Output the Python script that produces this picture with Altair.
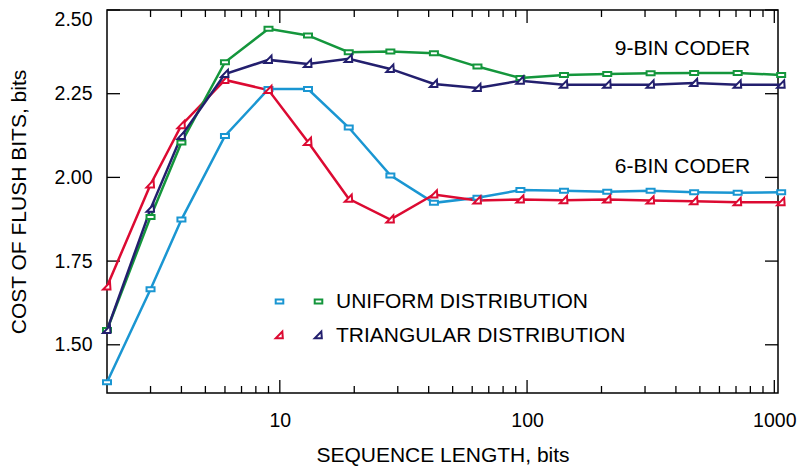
import altair as alt
import pandas as pd

# ---- data ----
seq_len = [2, 3, 4, 6, 9, 13, 19, 28, 42, 63, 94, 141, 211, 316, 474, 711, 1066]
uniform_6bin = [1.388, 1.666, 1.874, 2.124, 2.264, 2.264, 2.149, 2.006, 1.924, 1.939,
                1.962, 1.960, 1.957, 1.960, 1.956, 1.954, 1.956]
uniform_9bin = [1.544, 1.882, 2.104, 2.344, 2.444, 2.424, 2.374, 2.376, 2.371, 2.331,
                2.297, 2.306, 2.309, 2.311, 2.312, 2.312, 2.306]
triangular_6bin = [1.674, 1.979, 2.156, 2.291, 2.261, 2.106, 1.936, 1.874, 1.949, 1.931,
                   1.934, 1.932, 1.934, 1.931, 1.929, 1.926, 1.926]
triangular_9bin = [1.544, 1.906, 2.124, 2.309, 2.351, 2.339, 2.354, 2.324, 2.279, 2.267,
                   2.289, 2.277, 2.277, 2.277, 2.282, 2.277, 2.277]

dists = ["UNIFORM DISTRIBUTION", "TRIANGULAR DISTRIBUTION"]
colors_6bin = ["#1a96d2", "#dc0a32"]
colors_9bin = ["#14963c", "#231f6e"]

x_major = [10, 100, 1000]
x_minor = [3, 4, 5, 6, 7, 8, 9, 20, 30, 40, 50, 60, 70, 80, 90,
           200, 300, 400, 500, 600, 700, 800, 900]
y_ticks = [1.50, 1.75, 2.00, 2.25, 2.50]

note_text = ["9-BIN CODER", "6-BIN CODER"]
note_x = [425, 425]
note_y = [2.384, 2.0315]

FONT = "Liberation Sans"
W, H = 671, 383

rows = []
for coder, dist, vals in [("6-BIN", dists[0], uniform_6bin), ("9-BIN", dists[0], uniform_9bin),
                          ("6-BIN", dists[1], triangular_6bin), ("9-BIN", dists[1], triangular_9bin)]:
    for xv, v in zip(seq_len, vals):
        rows.append({"length": xv, "cost": v, "coder": coder, "dist": dist})
df = pd.DataFrame(rows)

x_scale = alt.Scale(type="log", domain=[2, 1035], nice=False)
y_scale = alt.Scale(domain=[1.356, 2.50], nice=False, zero=False)

x_axis = alt.Axis(values=x_major, format="d", ticks=False, domain=False, grid=False,
                  labelFontSize=19.5, labelPadding=18, labelColor="black",
                  labelFont=FONT, title="SEQUENCE LENGTH, bits", titleFont=FONT,
                  titleFontSize=21, titleFontWeight="normal", titlePadding=15, titleColor="black")
y_axis = alt.Axis(values=y_ticks, format=".2f", ticks=False, domain=False, grid=False,
                  labelFontSize=19.5, labelPadding=15, labelFlush=3, labelColor="black",
                  labelFont=FONT, title="COST OF FLUSH BITS, bits", titleFont=FONT,
                  titleFontSize=21, titleFontWeight="normal", titlePadding=25, titleColor="black")

SQUARE = "M -0.8 -0.4 L 0.8 -0.4 L 0.8 0.4 L -0.8 0.4 Z"
TRI = "M -0.8 0.6 L 0.7 0.6 L 0.6 -0.85 Z"

legend6 = alt.Legend(orient="none", legendX=162, legendY=281, title=None, padding=0,
                     symbolSize=90, symbolStrokeWidth=2, symbolFillColor="white",
                     labelFontSize=21, labelFont=FONT, labelExpr="' '", rowPadding=12,
                     labelOffset=7)
legend9 = alt.Legend(orient="none", legendX=201, legendY=281, title=None, padding=0,
                     symbolSize=90, symbolStrokeWidth=2, symbolFillColor="white",
                     labelFontSize=21, labelFont=FONT, labelColor="black", rowPadding=12,
                     labelOffset=7, labelLimit=400)

X = alt.X("length:Q", scale=x_scale, axis=x_axis)
Y = alt.Y("cost:Q", scale=y_scale, axis=y_axis)


def series(coder, colors, legend):
    base = alt.Chart(df[df["coder"] == coder])
    line = base.mark_line(strokeWidth=2.5).encode(
        x=X, y=Y,
        color=alt.Color("dist:N", scale=alt.Scale(domain=dists, range=colors), legend=None),
    )
    pts = base.mark_point(filled=True, fill="white", strokeWidth=2, size=100, opacity=1).encode(
        x=X, y=Y,
        stroke=alt.Stroke("dist:N", scale=alt.Scale(domain=dists, range=colors), legend=legend),
        shape=alt.Shape("dist:N", scale=alt.Scale(domain=dists, range=[SQUARE, TRI]), legend=legend),
    )
    return [line, pts]


# inside tick marks on all four sides
xmaj = pd.DataFrame({"length": x_major})
xmin = pd.DataFrame({"length": x_minor})
ytk = pd.DataFrame({"cost": y_ticks})


def xt(data, length, top):
    y0 = 0 if top else H
    y1 = length if top else H - length
    return alt.Chart(data).mark_rule(color="black", strokeWidth=1.3).encode(
        x=X, y=alt.value(y0), y2=alt.value(y1))


def yt(data, length, left):
    x0 = 0 if left else W
    x1 = length if left else W - length
    return alt.Chart(data).mark_rule(color="black", strokeWidth=1.3).encode(
        y=Y, x=alt.value(x0), x2=alt.value(x1))


ticks = [xt(xmaj, 13, True), xt(xmaj, 13, False), xt(xmin, 7, True), xt(xmin, 7, False),
         yt(ytk, 13, True), yt(ytk, 13, False)]

notes = alt.Chart(pd.DataFrame({"t": note_text, "length": note_x, "cost": note_y})).mark_text(
    font=FONT, fontSize=21, color="black", align="center", baseline="middle").encode(
    x=X, y=Y, text="t:N")

chart = alt.layer(
    *ticks,
    *series("6-BIN", colors_6bin, legend6),
    *series("9-BIN", colors_9bin, legend9),
    notes,
).resolve_scale(
    color="independent", stroke="independent", shape="independent"
).properties(
    width=W, height=H,
    padding={"left": 107, "top": 10, "right": 22, "bottom": 75},
    autosize=alt.AutoSizeParams(type="none"),
    background="white",
).configure_view(
    stroke="black", strokeWidth=1.5
)

chart.save("out.html", embed_options={"renderer": "svg", "actions": False})
